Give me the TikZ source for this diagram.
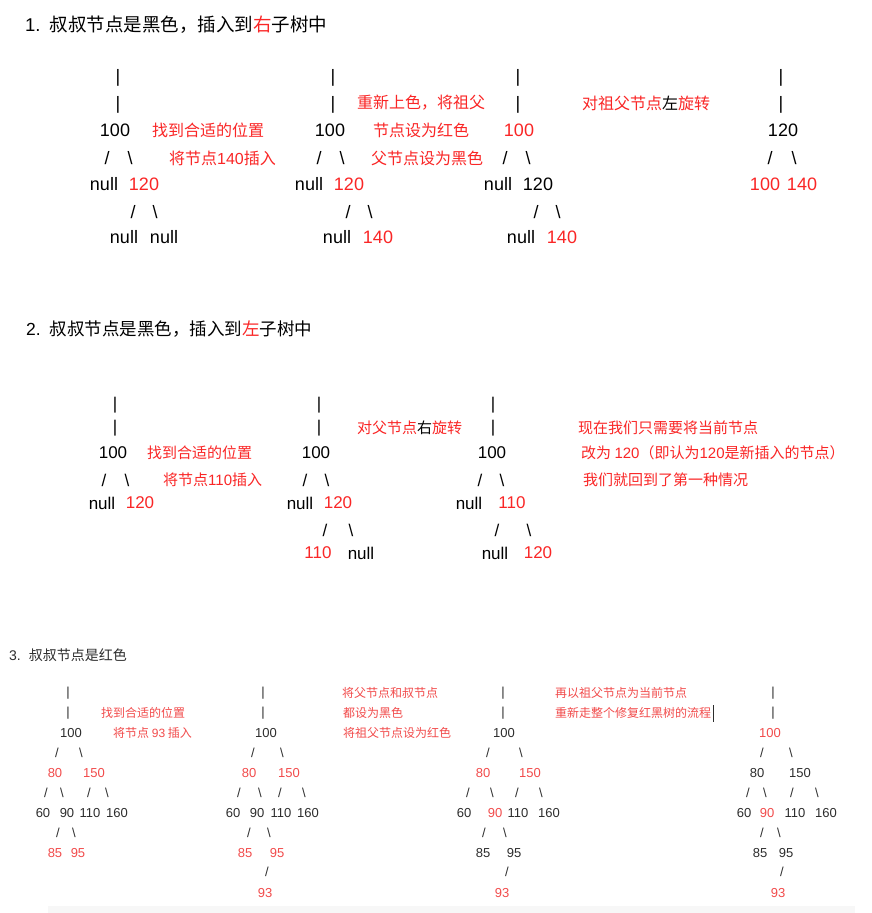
\documentclass[tikz,border=0pt]{standalone}
\usepackage{fontspec}
\setmainfont{Liberation Sans}
\newfontfamily\cjk{Noto Sans CJK SC}
\usepackage{xcolor}
\usetikzlibrary{positioning}
\definecolor{rbred}{RGB}{250,38,38}
\definecolor{rbredsoft}{RGB}{242,75,75}
\definecolor{rbgray}{RGB}{45,45,45}
\newcommand{\lat}[1]{{\rmfamily #1}}
\newcommand{\bs}{\textbackslash}

\begin{document}
\begin{tikzpicture}[
        x=1pt,y=-1pt,
        num/.style={inner sep=0pt,font=\fontsize{18}{18}\selectfont},
        rnum/.style={num,text=rbred},
        note/.style={inner sep=0pt,anchor=west,text=rbred,
                     font=\fontsize{16}{16}\selectfont\cjk},
        numb/.style={inner sep=0pt,font=\fontsize{17}{17}\selectfont},
        rnumb/.style={numb,text=rbred},
        noteb/.style={note,font=\fontsize{15}{15}\selectfont\cjk},
        numc/.style={inner sep=0pt,text=rbgray,font=\fontsize{13}{13}\selectfont},
        rnumc/.style={numc,text=rbredsoft},
        notec/.style={note,text=rbredsoft,font=\fontsize{12}{12}\selectfont\cjk},
        ttl/.style={inner sep=0pt,anchor=west},
      ]
        \useasboundingbox[fill=white](0,0)rectangle(871,913);
        \fill[black!3](48,906)rectangle(855,913);

        % ---- case 1
        \node[ttl,font=\fontsize{18.5}{18.5}\selectfont](t1)at(25,25){%
          1.\hspace{9pt}{\cjk 叔叔节点是黑色，插入到\textcolor{rbred}{右}子树中}};

        \node[num](a1p1)at(118,78){|};
        \node[num](a1p2)at(118,105){|};
        \node[num](a1r)at(115,130){100};
        \node[num](a1s1)at(107,158){/};
        \node[num](a1b1)at(130,158){\bs};
        \node[num](a1n1)at(104,184){null};
        \node[rnum](a1c)at(144,184){120};
        \node[num](a1s2)at(133,212){/};
        \node[num](a1b2)at(155,212){\bs};
        \node[num](a1n2)at(124,237){null};
        \node[num](a1n3)at(164,237){null};
        \node[note](a1t1)at(152,130){找到合适的位置};
        \node[note](a1t2)at(169,158){将节点\lat{140}插入};

        \node[num](b1p1)at(333,78){|};
        \node[num](b1p2)at(333,105){|};
        \node[num](b1r)at(330,130){100};
        \node[num](b1s1)at(319,158){/};
        \node[num](b1b1)at(342,158){\bs};
        \node[num](b1n1)at(309,184){null};
        \node[rnum](b1c)at(349,184){120};
        \node[num](b1s2)at(348,212){/};
        \node[num](b1b2)at(370,212){\bs};
        \node[num](b1n2)at(337,237){null};
        \node[rnum](b1x)at(378,237){140};
        \node[note](b1t1)at(357,103){重新上色，将祖父};
        \node[note](b1t2)at(373,130){节点设为红色};
        \node[note](b1t3)at(371,158){父节点设为黑色};

        \node[num](c1p1)at(518,78){|};
        \node[num](c1p2)at(518,105){|};
        \node[rnum](c1r)at(519,130){100};
        \node[num](c1s1)at(505,158){/};
        \node[num](c1b1)at(528,158){\bs};
        \node[num](c1n1)at(498,184){null};
        \node[num](c1c)at(538,184){120};
        \node[num](c1s2)at(536,212){/};
        \node[num](c1b2)at(558,212){\bs};
        \node[num](c1n2)at(521,237){null};
        \node[rnum](c1x)at(562,237){140};
        \node[note](c1t1)at(582,103){对祖父节点\textcolor{black}{左}旋转};

        \node[num](d1p1)at(781,78){|};
        \node[num](d1p2)at(781,105){|};
        \node[num](d1r)at(783,130){120};
        \node[num](d1s1)at(770,158){/};
        \node[num](d1b1)at(794,158){\bs};
        \node[rnum](d1l)at(765,184){100};
        \node[rnum](d1x)at(802,184){140};

        % ---- case 2
        \node[ttl,font=\fontsize{17.5}{17.5}\selectfont](t2)at(26,329){%
          2.\hspace{9pt}{\cjk 叔叔节点是黑色，插入到\textcolor{rbred}{左}子树中}};

        \node[numb](a2p1)at(115,405){|};
        \node[numb](a2p2)at(115,428){|};
        \node[numb](a2r)at(113,453){100};
        \node[numb](a2s1)at(104,480){/};
        \node[numb](a2b1)at(127,480){\bs};
        \node[numb](a2n1)at(102,503){null};
        \node[rnumb](a2c)at(140,503){120};
        \node[noteb](a2t1)at(147,453){找到合适的位置};
        \node[noteb](a2t2)at(163,480){将节点\lat{110}插入};

        \node[numb](b2p1)at(319,405){|};
        \node[numb](b2p2)at(319,428){|};
        \node[numb](b2r)at(316,453){100};
        \node[numb](b2s1)at(305,480){/};
        \node[numb](b2b1)at(327,480){\bs};
        \node[numb](b2n1)at(300,503){null};
        \node[rnumb](b2c)at(338,503){120};
        \node[numb](b2s2)at(325,530){/};
        \node[numb](b2b2)at(351,530){\bs};
        \node[rnumb](b2x)at(318,553){110};
        \node[numb](b2n2)at(361,553){null};
        \node[noteb](b2t1)at(357,428){对父节点\textcolor{black}{右}旋转};

        \node[numb](c2p1)at(493,405){|};
        \node[numb](c2p2)at(493,428){|};
        \node[numb](c2r)at(492,453){100};
        \node[numb](c2s1)at(480,480){/};
        \node[numb](c2b1)at(502,480){\bs};
        \node[numb](c2n1)at(469,503){null};
        \node[rnumb](c2c)at(512,503){110};
        \node[numb](c2s2)at(497,530){/};
        \node[numb](c2b2)at(529,530){\bs};
        \node[numb](c2n2)at(495,553){null};
        \node[rnumb](c2x)at(538,553){120};
        \node[noteb](c2t1)at(578,428){现在我们只需要将当前节点};
        \node[noteb](c2t2)at(581,453){改为 \lat{120}（即认为\lat{120}是新插入的节点）};
        \node[noteb](c2t3)at(583,480){我们就回到了第一种情况};

        % ---- case 3
        \node[ttl,text=rbgray,font=\fontsize{14}{14}\selectfont](t3)at(9,655){%
          3.\hspace{8pt}{\cjk 叔叔节点是红色}};

        \node[numc](a3p1)at(68,693){|};
        \node[numc](a3p2)at(68,713){|};
        \node[numc](a3r)at(71,733){100};
        \node[numc](a3s1)at(57,753){/};
        \node[numc](a3b1)at(81,753){\bs};
        \node[rnumc](a3l)at(55,773){80};
        \node[rnumc](a3u)at(94,773){150};
        \node[numc](a3s2)at(46,793){/};
        \node[numc](a3b2)at(62,793){\bs};
        \node[numc](a3s3)at(89,793){/};
        \node[numc](a3b3)at(107,793){\bs};
        \node[numc](a3k1)at(43,813){60};
        \node[numc](a3k2)at(67,813){90};
        \node[numc](a3k3)at(90,813){110};
        \node[numc](a3k4)at(117,813){160};
        \node[numc](a3s4)at(58,833){/};
        \node[numc](a3b4)at(74,833){\bs};
        \node[rnumc](a3m1)at(55,853){85};
        \node[rnumc](a3m2)at(78,853){95};
        \node[notec](a3t1)at(101,713){找到合适的位置};
        \node[notec](a3t2)at(113,733){将节点 \lat{93} 插入};

        \node[numc](b3p1)at(263,693){|};
        \node[numc](b3p2)at(263,713){|};
        \node[numc](b3r)at(266,733){100};
        \node[numc](b3s1)at(253,753){/};
        \node[numc](b3b1)at(282,753){\bs};
        \node[rnumc](b3l)at(249,773){80};
        \node[rnumc](b3u)at(289,773){150};
        \node[numc](b3s2)at(239,793){/};
        \node[numc](b3b2)at(260,793){\bs};
        \node[numc](b3s3)at(280,793){/};
        \node[numc](b3b3)at(304,793){\bs};
        \node[numc](b3k1)at(233,813){60};
        \node[numc](b3k2)at(257,813){90};
        \node[numc](b3k3)at(281,813){110};
        \node[numc](b3k4)at(308,813){160};
        \node[numc](b3s4)at(249,833){/};
        \node[numc](b3b4)at(269,833){\bs};
        \node[rnumc](b3m1)at(245,853){85};
        \node[rnumc](b3m2)at(277,853){95};
        \node[numc](b3s5)at(267,872){/};
        \node[rnumc](b3x)at(265,893){93};
        \node[notec](b3t1)at(342,693){将父节点和叔节点};
        \node[notec](b3t2)at(343,713){都设为黑色};
        \node[notec](b3t3)at(343,733){将祖父节点设为红色};

        \node[numc](c3p1)at(503,693){|};
        \node[numc](c3p2)at(503,713){|};
        \node[numc](c3r)at(504,733){100};
        \node[numc](c3s1)at(488,753){/};
        \node[numc](c3b1)at(521,753){\bs};
        \node[rnumc](c3l)at(483,773){80};
        \node[rnumc](c3u)at(530,773){150};
        \node[numc](c3s2)at(468,793){/};
        \node[numc](c3b2)at(492,793){\bs};
        \node[numc](c3s3)at(517,793){/};
        \node[numc](c3b3)at(541,793){\bs};
        \node[numc](c3k1)at(464,813){60};
        \node[rnumc](c3k2)at(495,813){90};
        \node[numc](c3k3)at(518,813){110};
        \node[numc](c3k4)at(549,813){160};
        \node[numc](c3s4)at(484,833){/};
        \node[numc](c3b4)at(505,833){\bs};
        \node[numc](c3m1)at(483,853){85};
        \node[numc](c3m2)at(514,853){95};
        \node[numc](c3s5)at(507,872){/};
        \node[rnumc](c3x)at(502,893){93};
        \node[notec](c3t1)at(555,693){再以祖父节点为当前节点};
        \node[notec](c3t2)at(555,713){重新走整个修复红黑树的流程};
        \node[fill=rbgray,inner sep=0pt,minimum width=1pt,
              minimum height=17pt,right=1pt of c3t2](cursor){};

        \node[numc](d3p1)at(773,693){|};
        \node[numc](d3p2)at(773,713){|};
        \node[rnumc](d3r)at(770,733){100};
        \node[numc](d3s1)at(762,753){/};
        \node[numc](d3b1)at(791,753){\bs};
        \node[numc](d3l)at(757,773){80};
        \node[numc](d3u)at(800,773){150};
        \node[numc](d3s2)at(748,793){/};
        \node[numc](d3b2)at(765,793){\bs};
        \node[numc](d3s3)at(792,793){/};
        \node[numc](d3b3)at(817,793){\bs};
        \node[numc](d3k1)at(744,813){60};
        \node[rnumc](d3k2)at(767,813){90};
        \node[numc](d3k3)at(795,813){110};
        \node[numc](d3k4)at(826,813){160};
        \node[numc](d3s4)at(762,833){/};
        \node[numc](d3b4)at(779,833){\bs};
        \node[numc](d3m1)at(760,853){85};
        \node[numc](d3m2)at(786,853){95};
        \node[numc](d3s5)at(782,872){/};
        \node[rnumc](d3x)at(778,893){93};
      \end{tikzpicture}
\end{document}
